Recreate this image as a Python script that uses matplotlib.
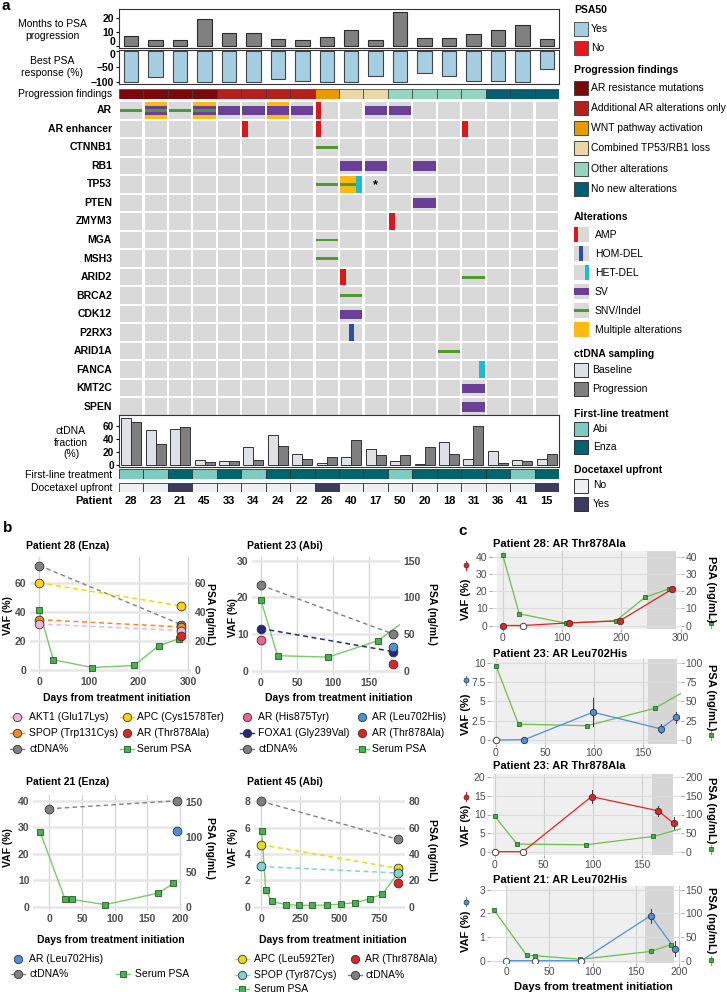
import numpy as np
import matplotlib
matplotlib.use("Agg")
import matplotlib.pyplot as plt
from matplotlib.patches import Rectangle

plt.rcParams["font.family"] = ["Liberation Sans", "DejaVu Sans"]
plt.rcParams["font.size"] = 7.5

W, H = 727, 992

#################### panel a data ####################
patients = ["28", "23", "21", "45", "33", "34", "24", "22", "26", "40",
            "17", "50", "20", "18", "31", "36", "41", "15"]
months_to_prog = [6.9, 4.5, 4.5, 19.3, 9.3, 9.3, 4.8, 4.5, 6.2, 11.2,
                  4.3, 24.3, 5.4, 5.4, 8.6, 11.6, 15.1, 4.9]
best_psa = [-99, -83, -99, -99, -99, -99, -91, -97, -100, -100,
            -80, -99, -69, -81, -95, -95, -100, -56]
prog_findings = ["ARres", "ARres", "ARres", "ARres", "ARadd", "ARadd", "ARadd", "ARadd",
                 "WNT", "TP53RB1", "TP53RB1", "Other", "Other", "Other", "Other",
                 "None", "None", "None"]
genes = ["AR", "AR enhancer", "CTNNB1", "RB1", "TP53", "PTEN", "ZMYM3", "MGA", "MSH3",
         "ARID2", "BRCA2", "CDK12", "P2RX3", "ARID1A", "FANCA", "KMT2C", "SPEN"]
alterations = [
    ("AR", "28", "SNV"), ("AR", "23", "MULTI"), ("AR", "23", "SV"), ("AR", "23", "SNV"),
    ("AR", "21", "SNV"), ("AR", "45", "MULTI"), ("AR", "45", "SV"), ("AR", "45", "SNV"),
    ("AR", "33", "SV"), ("AR", "34", "SV"), ("AR", "24", "MULTI"), ("AR", "24", "SV"),
    ("AR", "22", "SV"), ("AR", "26", "AMP"), ("AR", "17", "SV"), ("AR", "50", "SV"),
    ("AR enhancer", "34", "AMP"), ("AR enhancer", "26", "AMP"), ("AR enhancer", "31", "AMP"),
    ("CTNNB1", "26", "SNV"),
    ("RB1", "40", "SV"), ("RB1", "17", "SV"), ("RB1", "20", "SV"),
    ("TP53", "26", "SNV"), ("TP53", "40", "MULTI"), ("TP53", "40", "SNV"), ("TP53", "40", "HETDEL"),
    ("PTEN", "20", "SV"), ("ZMYM3", "50", "AMP"), ("MGA", "26", "SNV"), ("MSH3", "26", "SNV"),
    ("ARID2", "40", "AMP"), ("ARID2", "31", "SNV"), ("BRCA2", "40", "SNV"),
    ("CDK12", "40", "SV"), ("P2RX3", "40", "HOMDEL"), ("ARID1A", "18", "SNV"),
    ("FANCA", "31", "HETDEL"), ("KMT2C", "31", "SV"), ("SPEN", "31", "SV"),
]
starred = [("TP53", "17")]
ctdna_baseline = [73, 54, 56, 7.7, 5.7, 27, 46, 16.4, 2.5, 12, 24.6, 6, 2, 36, 9, 21, 7.5, 9.6]
ctdna_progression = [65.7, 33, 58, 4.6, 5.7, 7, 29, 9, 13, 38, 15.4, 16, 28, 17, 60, 3, 6.4, 16.5]
first_line = ["Abi", "Abi", "Enza", "Abi", "Enza", "Abi", "Enza", "Enza", "Enza", "Enza",
              "Enza", "Abi", "Enza", "Enza", "Enza", "Enza", "Abi", "Enza"]
docetaxel = ["No", "No", "Yes", "No", "No", "No", "No", "No", "Yes", "No",
             "No", "No", "No", "No", "No", "No", "No", "Yes"]

#################### panel b data ####################
p28_days = [0, 286]
p28_ctdna = [72, 31]
p28_apc = [60, 44]
p28_spop = [34.5, 29.5]
p28_akt1 = [31.5, 27]
p28_ar_day = [286]
p28_ar = [23]
p28_psa_days = [0, 28, 106, 191, 240, 281]
p28_psa = [41, 6.8, 1.4, 2.8, 16.4, 21.4]

p23_days = [0, 183]
p23_ctdna = [23.3, 10]
p23_foxa1 = [11.5, 5.2]
p23_h875y_day = [0]
p23_h875y = [8.5]
p23_l702h_day = [183]
p23_l702h = [6.5]
p23_t878a_day = [183]
p23_t878a = [1.9]
p23_psa_days = [0, 23, 93, 162, 220]
p23_psa = [96, 20.5, 18.5, 41, 83]

p21_days = [0, 195]
p21_ctdna = [37, 40]
p21_l702h_day = [195]
p21_l702h = [28.5]
p21_psa_days = [-14, 24, 34, 86, 167, 190]
p21_psa = [107, 11, 10.5, 3, 19.5, 33.5]

p45_days = [0, 875]
p45_ctdna = [8, 5.1]
p45_apc = [4.7, 2.9]
p45_spop = [3.05, 2.55]
p45_ar_day = [875]
p45_ar = [1.8]
p45_psa_days = [4, 30, 68, 159, 244, 327, 418, 510, 600, 694, 773, 875]
p45_psa = [57.5, 13, 4, 1.5, 1, 1, 1.2, 2, 3, 6, 9.5, 26]

#################### panel c data ####################
c28_days = [0, 34, 111, 197, 286]
c28_vaf = [0, 0, 1.5, 2.7, 21.2]
c28_err = [0, 0, 0, 0, 0]
c28_det = [1, 0, 1, 1, 1]
c28_window = [243, 292]

c23a_days = [0, 29, 99, 168, 184]
c23a_vaf = [0, 0.05, 3.6, 1.45, 2.95]
c23a_err = [0, 0, 1.8, 0.6, 0.7]
c23a_det = [0, 1, 1, 1, 1]
c23a_window = [155, 185]

c23b_days = [0, 29, 99, 167, 183]
c23b_vaf = [0, 0, 14.8, 11, 7.6]
c23b_err = [0, 0, 1.7, 1.4, 1.6]
c23b_det = [0, 0, 1, 1, 1]
c23b_window = [161, 182]

c21_days = [0, 34, 87, 167, 195]
c21_vaf = [0, 0, 0, 1.9, 0.5]
c21_err = [0, 0, 0, 0.3, 0.32]
c21_det = [0, 0, 0, 1, 1]
c21_window = [160.5, 194]

#################### colours ####################
pf_cols = {"ARres": "#7A0A0A", "ARadd": "#B2221B", "WNT": "#E99A00",
           "TP53RB1": "#EBD7A6", "Other": "#93D5BF", "None": "#005F73"}
alt_cols = {"AMP": "#D7191C", "HOMDEL": "#2F4EA0", "HETDEL": "#19BCD0",
            "SV": "#6B3F98", "SNV": "#4E9A2A", "MULTI": "#FDBA12"}
fl_cols = {"Abi": "#7DCBBF", "Enza": "#00646E"}
dt_cols = {"No": "#EEF0F4", "Yes": "#393C5C"}
cell_gray = "#D9D9D9"
psa_blue = "#A6CEE3"
base_col = "#DDE1E8"
prog_col = "#7F7F7F"
ctdna_col = "#808080"
red = "#E02424"
blue = "#4C8FDB"
psa_line = "#7BC96A"
psa_fill = "#4CAF50"
psa_edge = "#1F5C1F"

fig = plt.figure(figsize=(W / 100, H / 100), dpi=100)
ov = fig.add_axes([0, 0, 1, 1], zorder=10)
ov.set_xlim(0, W)
ov.set_ylim(H, 0)
ov.axis("off")


def px_axes(l, t, r, b):
    return fig.add_axes([l / W, 1 - b / H, (r - l) / W, (b - t) / H])


def txt(x, y, s, **kw):
    kw.setdefault("va", "center")
    ov.text(x, y, s, **kw)


def fmt(v):
    return "{:g}".format(v)


#################### panel a ####################
n = len(patients)
xs = np.arange(n)
L, R = 119, 559
colw = (R - L) / n

ax_m = px_axes(L, 9, R, 48)
ax_m.bar(xs, months_to_prog, width=0.59, color="#808080", edgecolor="#2B2B2B", lw=0.8)
ax_m.set_xlim(-0.5, n - 0.5)
ax_m.set_ylim(-1.4, 26.4)
ax_m.set_xticks([])
ax_m.set_yticks([0, 10, 20])
ax_m.set_yticklabels(["", "10", "20"], fontweight="bold", fontsize=7.5)

ax_p = px_axes(L, 50, R, 84)
ax_p.bar(xs, best_psa, width=0.59, color=psa_blue, edgecolor="#444444", lw=0.8)
ax_p.set_xlim(-0.5, n - 0.5)
ax_p.set_ylim(-106, 4)
ax_p.set_xticks([])
ax_p.set_yticks([-100, -50, 0])
ax_p.set_yticklabels(["\u2212100", "\u221250", ""], fontweight="bold", fontsize=7.5)

for ax in (ax_m, ax_p):
    ax.tick_params(axis="y", length=2, pad=1.5)
    for s in ax.spines.values():
        s.set_color("#333333")
        s.set_linewidth(0.8)
txt(115.5, 42, "0", ha="right", fontweight="bold")
txt(115.5, 55, "0", ha="right", fontweight="bold")

ax_pf = px_axes(L, 89, R, 98.5)
for i, k in enumerate(prog_findings):
    ax_pf.add_patch(Rectangle((i - 0.5, 0), 1, 1, fc=pf_cols[k], ec="#3A3A3A", lw=0.5))
ax_pf.set_xlim(-0.5, n - 0.5)
ax_pf.set_ylim(0, 1)
ax_pf.axis("off")

ax_o = px_axes(L, 101, R, 416)
ax_o.set_xlim(-0.5, n - 0.5)
ax_o.set_ylim(len(genes), 0)
ax_o.axis("off")
for r in range(len(genes)):
    for c in range(n):
        ax_o.add_patch(Rectangle((c - 0.455, r + 0.055), 0.91, 0.89, fc=cell_gray, lw=0))

order = {"MULTI": 0, "SV": 1, "SNV": 2, "AMP": 3, "HOMDEL": 3, "HETDEL": 3}
for gene, pat, kind in sorted(alterations, key=lambda a: order[a[2]]):
    r = genes.index(gene)
    c = patients.index(pat)
    x0, y0 = c - 0.455, r + 0.055
    col = alt_cols[kind]
    if kind == "MULTI":
        ax_o.add_patch(Rectangle((x0, y0), 0.91, 0.89, fc=col, lw=0))
    elif kind == "SV":
        ax_o.add_patch(Rectangle((x0, r + 0.26), 0.91, 0.5, fc=col, lw=0))
    elif kind == "SNV":
        ax_o.add_patch(Rectangle((x0, r + 0.43), 0.91, 0.15, fc=col, lw=0))
    elif kind == "AMP":
        ax_o.add_patch(Rectangle((x0, y0), 0.23, 0.89, fc=col, lw=0))
    elif kind == "HOMDEL":
        ax_o.add_patch(Rectangle((c - 0.09, y0), 0.22, 0.89, fc=col, lw=0))
    elif kind == "HETDEL":
        ax_o.add_patch(Rectangle((c + 0.215, y0), 0.24, 0.89, fc=col, lw=0))
for gene, pat in starred:
    ax_o.text(patients.index(pat), genes.index(gene) + 0.55, "*", ha="center", va="center",
              fontsize=9, fontweight="bold")

ax_c = px_axes(L, 415, R, 466.5)
ax_c.bar(xs - 0.205, ctdna_baseline, width=0.41, color=base_col, edgecolor="#333333", lw=0.7)
ax_c.bar(xs + 0.205, ctdna_progression, width=0.41, color=prog_col, edgecolor="#333333", lw=0.7)
ax_c.set_xlim(-0.5, n - 0.5)
ax_c.set_ylim(-2.3, 77)
ax_c.set_xticks([])
ax_c.set_yticks([0, 20, 40, 60])
ax_c.set_yticklabels(["0", "20", "40", "60"], fontweight="bold", fontsize=7.2)
ax_c.tick_params(axis="y", length=2, pad=1.5)
for s in ax_c.spines.values():
    s.set_color("#333333")
    s.set_linewidth(0.8)

for (t, b), vals, cols in (((469.3, 478.7), first_line, fl_cols), ((482.7, 492), docetaxel, dt_cols)):
    axr = px_axes(L, t, R, b)
    for i, v in enumerate(vals):
        axr.add_patch(Rectangle((i - 0.5, 0), 1, 1, fc=cols[v], ec="#333333", lw=0.6))
    axr.set_xlim(-0.5, n - 0.5)
    axr.set_ylim(0, 1)
    axr.axis("off")

for i, p in enumerate(patients):
    txt(L + (i + 0.5) * colw, 500.7, p, ha="center", fontweight="bold", fontsize=8)
txt(112, 500.7, "Patient", ha="right", fontweight="bold", fontsize=8)
txt(112, 475.5, "First-line treatment", ha="right")
txt(112, 488, "Docetaxel upfront", ha="right")
txt(112, 93.7, "Progression findings", ha="right")
for r, g in enumerate(genes):
    txt(112, 101 + (r + 0.5) * 315 / len(genes), g, ha="right", fontweight="bold")
txt(52, 30, "Months to PSA\nprogression", ha="center", linespacing=1.15)
txt(52, 67, "Best PSA\nresponse (%)", ha="center", linespacing=1.15)
txt(71, 442.5, "ctDNA\nfraction\n(%)", ha="center", linespacing=1.15)

# legends of panel a
lx, tx = 573.5, 591
def patch(y, fc, w=14.5, h=14, ec="#555555", x=lx):
    ov.add_patch(Rectangle((x, y - h / 2), w, h, fc=fc, ec=ec, lw=0.7))

txt(574, 10.4, "PSA50", fontweight="bold")
patch(28.7, psa_blue); txt(tx, 28.7, "Yes")
patch(47.8, "#E31A1C"); txt(tx, 47.8, "No")

txt(574, 70.2, "Progression findings", fontweight="bold")
pf_labels = [("ARres", "AR resistance mutations"), ("ARadd", "Additional AR alterations only"),
             ("WNT", "WNT pathway activation"), ("TP53RB1", "Combined TP53/RB1 loss"),
             ("Other", "Other alterations"), ("None", "No new alterations")]
for j, (k, lab) in enumerate(pf_labels):
    y = 88.2 + j * 20.08
    patch(y, pf_cols[k], ec="#444444")
    txt(tx, y, lab)

txt(574, 216.6, "Alterations", fontweight="bold")
alt_labels = [("AMP", "AMP"), ("HOMDEL", "HOM-DEL"), ("HETDEL", "HET-DEL"), ("SV", "SV"),
              ("SNV", "SNV/Indel"), ("MULTI", "Multiple alterations")]
for j, (k, lab) in enumerate(alt_labels):
    y = 234.6 + j * 19.0
    gx, gw, gh = 574, 14.5, 15
    if k == "MULTI":
        ov.add_patch(Rectangle((gx, y - gh / 2), gw, gh, fc=alt_cols[k], lw=0))
    else:
        ov.add_patch(Rectangle((gx, y - gh / 2), gw, gh, fc=cell_gray, lw=0))
        if k == "AMP":
            ov.add_patch(Rectangle((gx, y - gh / 2), 4, gh, fc=alt_cols[k], lw=0))
        elif k == "HOMDEL":
            ov.add_patch(Rectangle((gx + 5.3, y - gh / 2), 4, gh, fc=alt_cols[k], lw=0))
        elif k == "HETDEL":
            ov.add_patch(Rectangle((gx + 10.5, y - gh / 2), 4, gh, fc=alt_cols[k], lw=0))
        elif k == "SV":
            ov.add_patch(Rectangle((gx, y - 3.4), gw, 6.8, fc=alt_cols[k], lw=0))
        elif k == "SNV":
            ov.add_patch(Rectangle((gx, y - 1.3), gw, 2.6, fc=alt_cols[k], lw=0))
    txt(595, y, lab)

txt(574, 354.3, "ctDNA sampling", fontweight="bold")
patch(370.2, base_col, ec="#333333"); txt(592.3, 370.2, "Baseline")
patch(388.6, prog_col, ec="#333333"); txt(592.3, 388.6, "Progression")

txt(574, 413.8, "First-line treatment", fontweight="bold")
patch(429, fl_cols["Abi"], ec="#333333"); txt(592.7, 429, "Abi")
patch(447, fl_cols["Enza"], ec="#333333"); txt(592.7, 447, "Enza")

txt(574, 469.6, "Docetaxel upfront", fontweight="bold")
patch(485.5, dt_cols["No"], ec="#333333"); txt(592.7, 485.5, "No")
patch(503.8, dt_cols["Yes"], ec="#333333"); txt(592.7, 503.8, "Yes")

#################### panel b ####################
dash = (0, (3.2, 2.4))


def draw_b(box, xlim, ylim, f, xticks, yticks, rticks, psa_days, psa, cdays, cvals, muts):
    ax = px_axes(*box)
    ax.set_xlim(*xlim)
    ax.set_ylim(*ylim)
    for s in ax.spines.values():
        s.set_visible(False)
    for t in xticks:
        ax.axvline(t, color="#D4D4D4", lw=0.9, zorder=0)
    for t in yticks:
        ax.axhline(t, color="#E6E6E6", lw=1.8, zorder=0)
    pv = np.array(psa) / f
    ax.plot(psa_days, pv, color=psa_line, lw=1.0, zorder=2)
    ax.plot(psa_days, pv, "s", ms=4.6, mfc=psa_fill, mec=psa_edge, mew=0.6, zorder=3)
    ax.plot(cdays, cvals, ls=dash, color=ctdna_col, lw=1.0, zorder=2)
    ax.plot(cdays, cvals, "o", ms=6.3, mfc=ctdna_col, mec="#333333", mew=0.6, zorder=4)
    for days, vals, col in muts:
        if len(days) > 1:
            ax.plot(days, vals, ls=dash, color=col, lw=1.1, zorder=2)
        ax.plot(days, vals, "o", ms=6.3, mfc=col, mec="#333333", mew=0.6, zorder=5)
    ax.set_xticks(xticks)
    ax.set_xticklabels([fmt(t) for t in xticks], fontweight="bold")
    ax.set_yticks(yticks)
    ax.set_yticklabels([fmt(t) for t in yticks], fontweight="bold")
    ax.tick_params(length=0, pad=2.5, labelcolor="#4D4D4D", labelsize=7.5)
    ax2 = ax.twinx()
    ax2.set_ylim(ylim[0] * f, ylim[1] * f)
    ax2.set_yticks(rticks)
    ax2.set_yticklabels([fmt(t) for t in rticks], fontweight="bold")
    ax2.tick_params(length=0, pad=2.5, labelcolor="#4D4D4D", labelsize=7.5)
    for s in ax2.spines.values():
        s.set_visible(False)
    return ax


apc_gold = "#FFD400"
spop_orange = "#F28C28"
akt1_pink = "#F2B4D3"
h875_pink = "#F06292"
foxa1_navy = "#222A7E"
apc45_yellow = "#E4DC1A"
spop45_cyan = "#7FD4D0"

draw_b((30, 557, 191, 674), (-18.7, 305.2), (-3.1, 77.9), 1, [0, 100, 200, 300], [0, 20, 40, 60],
       [0, 20, 40, 60], p28_psa_days, p28_psa, p28_days, p28_ctdna,
       [(p28_days, p28_apc, apc_gold), (p28_days, p28_spop, spop_orange),
        (p28_days, p28_akt1, akt1_pink), (p28_ar_day, p28_ar, red)])
draw_b((252, 557, 400, 674.5), (-12.4, 192.3), (-1.04, 31), 5, [0, 50, 100, 150], [0, 10, 20, 30],
       [0, 50, 100, 150], p23_psa_days, p23_psa, p23_days, p23_ctdna,
       [(p23_days, p23_foxa1, foxa1_navy), (p23_h875y_day, p23_h875y, h875_pink),
        (p23_l702h_day, p23_l702h, blue), (p23_t878a_day, p23_t878a, red)])
draw_b((33, 795, 182, 911), (-25, 203.2), (-1.62, 42.2), 3.8, [0, 50, 100, 150, 200], [0, 10, 20, 30, 40],
       [0, 50, 100, 150], p21_psa_days, p21_psa, p21_days, p21_ctdna,
       [(p21_l702h_day, p21_l702h, blue)])
draw_b((254, 796, 405, 911), (-44.6, 917), (-0.33, 8.4), 10, [0, 250, 500, 750], [0, 2, 4, 6, 8],
       [0, 20, 40, 60, 80], p45_psa_days, p45_psa, p45_days, p45_ctdna,
       [(p45_days, p45_apc, apc45_yellow), (p45_days, p45_spop, spop45_cyan),
        (p45_ar_day, p45_ar, red)])

for x, y, t in ((26, 546, "Patient 28 (Enza)"), (246.7, 546, "Patient 23 (Abi)"),
                (26, 782.3, "Patient 21 (Enza)"), (246.7, 782.3, "Patient 45 (Abi)")):
    txt(x, y, t, fontweight="bold")
for x, y in ((8, 616), (233, 618), (8, 848), (233, 848)):
    txt(x, y, "VAF (%)", ha="center", rotation=90, fontweight="bold")
for x, y in ((210, 614), (432, 614), (210, 848), (432, 850)):
    txt(x, y, "PSA (ng/mL)", ha="center", rotation=270, fontweight="bold")
for x, y in ((117, 698), (339, 698), (111, 940), (333, 940)):
    txt(x, y, "Days from treatment initiation", ha="center", fontweight="bold")


def leg_entry(x, y, label, col, kind, tx_):
    if kind in ("lc", "psa"):
        ov.plot([x - 7, x + 7], [y, y], color=psa_line if kind == "psa" else col, lw=1.0)
    if kind == "psa":
        ov.plot(x, y, "s", ms=4.6, mfc=psa_fill, mec=psa_edge, mew=0.6)
    else:
        ov.plot(x, y, "o", ms=6.0, mfc=col, mec="#333333", mew=0.6)
    txt(tx_, y, label, fontsize=7.5)


for e in [(16.7, 716.7, "AKT1 (Glu17Lys)", akt1_pink, "lc", 29),
          (126.7, 716.7, "APC (Cys1578Ter)", apc_gold, "lc", 137),
          (16.7, 733.3, "SPOP (Trp131Cys)", spop_orange, "lc", 29),
          (126.7, 733.3, "AR (Thr878Ala)", red, "c", 137),
          (16.7, 749.3, "ctDNA%", ctdna_col, "lc", 29),
          (126.7, 749.3, "Serum PSA", psa_fill, "psa", 137),
          (246.7, 716.7, "AR (His875Tyr)", h875_pink, "c", 258.3),
          (361.7, 716.7, "AR (Leu702His)", blue, "c", 372),
          (246.7, 733.3, "FOXA1 (Gly239Val)", foxa1_navy, "lc", 258.3),
          (361.7, 733.3, "AR (Thr878Ala)", red, "c", 372),
          (246.7, 749.3, "ctDNA%", ctdna_col, "lc", 258.3),
          (361.7, 749.3, "Serum PSA", psa_fill, "psa", 372),
          (18.3, 959, "AR (Leu702His)", blue, "c", 29.3),
          (18.3, 974.3, "ctDNA%", ctdna_col, "lc", 29.3),
          (123.3, 974.3, "Serum PSA", psa_fill, "psa", 135),
          (242.3, 959, "APC (Leu592Ter)", apc45_yellow, "lc", 254),
          (355, 959, "AR (Thr878Ala)", red, "c", 365),
          (242.3, 975.3, "SPOP (Tyr87Cys)", spop45_cyan, "lc", 254),
          (355, 975.3, "ctDNA%", ctdna_col, "lc", 365),
          (242.3, 988.5, "Serum PSA", psa_fill, "psa", 254)]:
    leg_entry(*e)

#################### panel c ####################


def draw_c(box, xlim, ylim, f, xticks, yticks, rticks, light_from, window,
           vdays, vvals, verr, vdet, vcol, psa_days, psa):
    ax = px_axes(*box)
    ax.set_xlim(*xlim)
    ax.set_ylim(*ylim)
    ax.axvspan(light_from, window[0], color="#EFEFEF", lw=0, zorder=0)
    ax.axvspan(window[0], window[1], color="#D6D6D6", lw=0, zorder=0)
    for t in xticks:
        ax.axvline(t, color="#D0D0D0", lw=0.8, zorder=0.5)
    for t in yticks:
        ax.axhline(t, color="#DCDCDC", lw=0.8, zorder=0.5)
    pv = np.array(psa) / f
    ax.plot(psa_days, pv, color="#6DBE4B", lw=0.9, zorder=2)
    ax.plot(psa_days, pv, "s", ms=3.4, mfc="#3CB33C", mec="#1D4F1D", mew=0.5, zorder=3)
    ax.plot(vdays, vvals, color=vcol, lw=0.9, zorder=2)
    for d, v, e, det in zip(vdays, vvals, verr, vdet):
        if e > 0:
            ax.plot([d, d], [v - e, v + e], color="#333333", lw=0.7, zorder=3.5)
        if det:
            ax.plot(d, v, "o", ms=4.6, mfc=vcol, mec="#333333", mew=0.6, zorder=4)
        else:
            ax.plot(d, v, "o", ms=4.6, mfc="white", mec="#444444", mew=0.7, zorder=4)
    for s in ax.spines.values():
        s.set_visible(False)
    ax.set_xticks(xticks)
    ax.set_xticklabels([fmt(t) for t in xticks])
    ax.set_yticks(yticks)
    ax.set_yticklabels([fmt(t) for t in yticks])
    ax.tick_params(length=2, width=0.6, color="#999999", pad=1.2, labelcolor="#4D4D4D", labelsize=7.5)
    ax2 = ax.twinx()
    ax2.set_ylim(ylim[0] * f, ylim[1] * f)
    ax2.set_yticks(rticks)
    ax2.set_yticklabels([fmt(t) for t in rticks])
    ax2.tick_params(length=2, width=0.6, color="#999999", pad=1.2, labelcolor="#4D4D4D", labelsize=7.5)
    for s in ax2.spines.values():
        s.set_visible(False)
    return ax


draw_c((492, 551, 681, 628.5), (-18, 300.5), (-1.74, 43.3), 1, [0, 100, 200, 300], [0, 10, 20, 30, 40],
       [0, 10, 20, 30, 40], -10, c28_window, c28_days, c28_vaf, c28_err, c28_det, red,
       p28_psa_days, p28_psa)
draw_c((490, 658.8, 681, 743.9), (-6.1, 188.8), (-0.5, 10.5), 10, [0, 50, 100, 150], [0, 2.5, 5, 7.5, 10],
       [0, 25, 50, 75, 100], -2, c23a_window, c23a_days, c23a_vaf, c23a_err, c23a_det, blue,
       p23_psa_days, p23_psa)
draw_c((490, 773.6, 681, 855.4), (-4.6, 190.3), (-1, 21), 10, [0, 50, 100, 150], [0, 5, 10, 15, 20],
       [0, 50, 100, 150, 200], -2, c23b_window, c23b_days, c23b_vaf, c23b_err, c23b_det, red,
       p23_psa_days, p23_psa)
draw_c((490, 886, 681, 963), (-18.5, 202.1), (-0.097, 3.15), 50, [0, 50, 100, 150, 200], [0, 1, 2, 3],
       [0, 50, 100, 150], 0, c21_window, c21_days, c21_vaf, c21_err, c21_det, blue,
       p21_psa_days, p21_psa)

for y, t in ((544, "Patient 28: AR Thr878Ala"), (654.3, "Patient 23: AR Leu702His"),
             (766, "Patient 23: AR Thr878Ala"), (880, "Patient 21: AR Leu702His")):
    txt(493, y, t, fontweight="bold", fontsize=8)

for (vy, gy, col), (py, pg) in zip(((599, 565, red), (714, 680, blue), (825, 796.7, red), (931.5, 901.7, blue)),
                                   ((589, 623.3), (697, 735), (810, 849.3), (920, 960))):
    txt(466, vy, "VAF (%)", ha="center", rotation=90, fontweight="bold", fontsize=8)
    ov.plot([466, 466], [gy - 4.5, gy + 4.5], color=col, lw=0.8)
    ov.plot(466, gy, "o", ms=3.6, mfc=col, mec="#333333", mew=0.5)
    txt(710.5, py, "PSA (ng/mL)", ha="center", rotation=270, fontweight="bold", fontsize=8)
    ov.plot([710.5, 710.5], [pg - 4.5, pg + 4.5], color="#6DBE4B", lw=0.8)
    ov.plot(710.5, pg, "s", ms=3.0, mfc="#3CB33C", mec="#1D4F1D", mew=0.5)

txt(593.3, 986.7, "Days from treatment initiation", ha="center", fontweight="bold", fontsize=8)

txt(2, 6, "a", fontweight="bold", fontsize=11)
txt(3, 528, "b", fontweight="bold", fontsize=11)
txt(458, 531, "c", fontweight="bold", fontsize=11)

fig.savefig("out.png", dpi=100)
